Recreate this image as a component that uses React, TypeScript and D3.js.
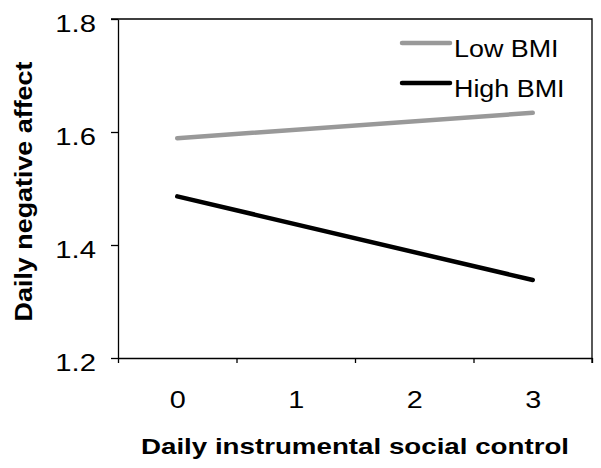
import { useEffect, useRef } from "react"
import * as d3 from "d3"

// values
const xLevels = [0, 1, 2, 3]
const lowBMI = [
  { x: 0, y: 1.589 },
  { x: 3, y: 1.634 },
]
const highBMI = [
  { x: 0, y: 1.486 },
  { x: 3, y: 1.338 },
]
const yTicks = [1.2, 1.4, 1.6, 1.8]
const seriesNames = ["Low BMI", "High BMI"]
const seriesColors = ["#999999", "#000000"]

const App = () => {
  const svgRef = useRef<SVGSVGElement>(null)

  useEffect(() => {
    const svg = d3.select(svgRef.current)
    svg.selectAll("*").remove()

    const font = "'Liberation Sans', Arial, Helvetica, sans-serif"
    const left = 118, right = 592, top = 19, bottom = 358

    const x = d3.scaleLinear().domain([-0.5, 3.5]).range([left, right])
    const y = d3.scaleLinear().domain([1.2, 1.8]).range([bottom, top])

    //frame on top and right
    svg.append("path")
      .attr("d", `M${left - 7},${top}H${right}V${bottom + 5}`)
      .attr("fill", "none")
      .attr("stroke", "#000")
      .attr("stroke-width", 1.3)

    //y axis, the labels in the reference look wide so they get stretched
    const yAxis = svg.append("g")
      .attr("transform", `translate(${left},0)`)
      .call(d3.axisLeft(y).tickValues(yTicks).tickSize(7).tickSizeOuter(0).tickFormat(d3.format(".1f")))
    yAxis.selectAll("path, line").attr("stroke", "#000").attr("stroke-width", 1.3)
    yAxis.selectAll("text")
      .attr("x", 0)
      .attr("dy", null)
      .attr("transform", "translate(-22,12) scale(1.22,1)")
      .style("font-family", font)
      .style("font-size", "24px")
      .attr("fill", "#000")

    //x axis: ticks between categories
    const xAxis = svg.append("g")
      .attr("transform", `translate(0,${bottom})`)
      .call(d3.axisBottom(x).tickValues([-0.5, 0.5, 1.5, 2.5, 3.5]).tickSize(5).tickSizeOuter(0).tickFormat(() => ""))
    xAxis.selectAll("path, line").attr("stroke", "#000").attr("stroke-width", 1.3)

    const xLabels = svg.append("g")
      .attr("transform", `translate(0,${bottom})`)
      .call(d3.axisBottom(x).tickValues(xLevels).tickSize(0).tickFormat(d3.format("d")))
    xLabels.select(".domain").remove()
    xLabels.selectAll("text")
      .attr("y", 0)
      .attr("dy", null)
      .attr("transform", "translate(0,50) scale(1.2,1)")
      .style("font-family", font)
      .style("font-size", "24px")
      .attr("fill", "#000")

    //lines
    const line = d3.line<{ x: number; y: number }>()
      .x(d => x(d.x))
      .y(d => y(d.y))

    ;[lowBMI, highBMI].forEach((data, i) => {
      svg.append("path")
        .datum(data)
        .attr("fill", "none")
        .attr("stroke", seriesColors[i])
        .attr("stroke-width", 4.5)
        .attr("stroke-linecap", "round")
        .attr("d", line)
    })

    //legend
    const legend = svg.selectAll(".legend")
      .data(seriesNames)
      .enter()
      .append("g")
      .attr("class", "legend")
      .attr("transform", (d, i) => `translate(402, ${43 + i * 40})`)

    legend.append("line")
      .attr("x1", 0)
      .attr("x2", 48)
      .attr("stroke", (d, i) => seriesColors[i])
      .attr("stroke-width", 4.5)
      .attr("stroke-linecap", "round")

    legend.append("text")
      .attr("transform", "translate(52,14) scale(1.12,1)")
      .style("font-family", font)
      .style("font-size", "24px")
      .text(d => d)

    //axis titles
    svg.append("text")
      .attr("transform", `translate(${(left + right) / 2},454) scale(1.26,1)`)
      .attr("text-anchor", "middle")
      .style("font-family", font)
      .style("font-size", "22px")
      .style("font-weight", "bold")
      .text("Daily instrumental social control")

    svg.append("text")
      .attr("transform", `translate(32,${(top + bottom) / 2 + 3}) rotate(-90) scale(1.12,1)`)
      .attr("text-anchor", "middle")
      .style("font-family", font)
      .style("font-size", "24px")
      .style("font-weight", "bold")
      .text("Daily negative affect")
  }, [])

  return (
    <svg ref={svgRef} width={601} height={468} style={{ position: "absolute", left: 0, top: 0, background: "#fff" }}></svg>
  )
}

export default App
